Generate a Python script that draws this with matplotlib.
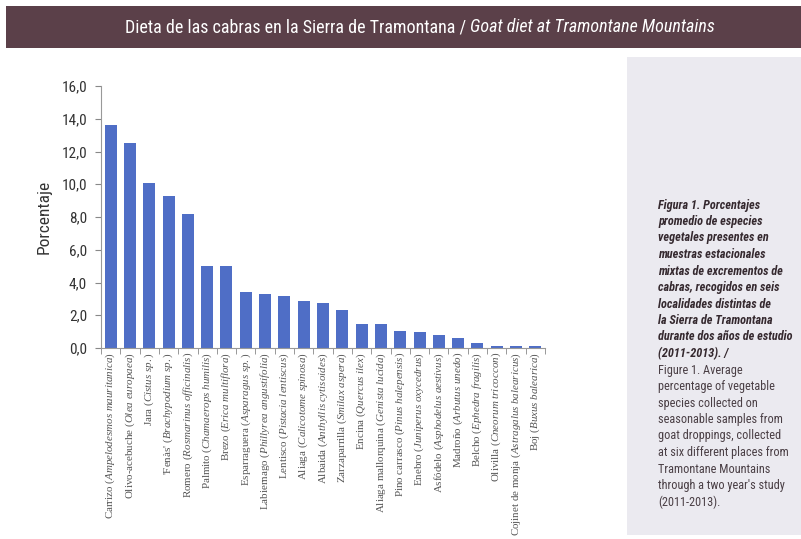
import matplotlib
matplotlib.use('Agg')
from matplotlib import pyplot as plt
from matplotlib.patches import Rectangle
import numpy

plt.rcParams['mathtext.fontset'] = 'custom'
plt.rcParams['mathtext.it'] = 'Liberation Serif:italic'
plt.rcParams['mathtext.rm'] = 'Liberation Serif'

# data
common_names = ['Carrizo', 'Olivo-acebuche', 'Jara', "'Fenàs'", 'Romero', 'Palmito', 'Brezo',
                'Esparraguera', 'Labiernago', 'Lentisco', 'Aliaga', 'Albaida', 'Zarzaparrilla',
                'Encina', 'Aliaga mallorquina', 'Pino carrasco', 'Enebro', 'Asfódelo', 'Madroño',
                'Belcho', 'Olivilla', 'Cojinet de monja', 'Boj']
latin_names = ['Ampelodesmos mauritanica', 'Olea europaea', 'Cistus sp.', 'Brachypodium sp.',
               'Rosmarinus officinalis', 'Chamaerops humilis', 'Erica multiflora', 'Asparagus sp.',
               'Phillyrea angustifolia', 'Pistacia lentiscus', 'Calicotome spinosa',
               'Anthyllis cytisoides', 'Smilax aspera', 'Quercus ilex', 'Genista lucida',
               'Pinus halepensis', 'Juniperus oxycedrus', 'Asphodelus aestivus', 'Arbutus unedo',
               'Ephedra fragilis', 'Cneorum tricoccon', 'Astragalus balearicus', 'Buxus balearica']
percentages = [13.6, 12.5, 10.1, 9.3, 8.2, 5.0, 5.0, 3.4, 3.3, 3.2, 2.85, 2.75, 2.3,
               1.45, 1.45, 1.05, 1.0, 0.8, 0.6, 0.3, 0.1, 0.1, 0.1]
y_ticks = [0, 2, 4, 6, 8, 10, 12, 14, 16]

title_es = 'Dieta de las cabras en la Sierra de Tramontana / '
title_en = 'Goat diet at Tramontane Mountains'
caption_es = ['Figura 1. Porcentajes', 'promedio de especies', 'vegetales presentes en',
              'muestras estacionales', 'mixtas de excrementos de', 'cabras, recogidos en seis',
              'localidades distintas de', 'la Sierra de Tramontana', 'durante dos años de estudio',
              '(2011-2013). /']
caption_en = ['Figure 1. Average', 'percentage of vegetable', 'species collected on',
              'seasonable samples from', 'goat droppings, collected', 'at six different places from',
              'Tramontane Mountains', "through a two year's study", '(2011-2013).']

narrow = ['Roboto Condensed', 'DejaVu Sans']

def italic_label(common, latin):
    return common + ' ($\\mathit{' + latin.replace(' ', '\\ ') + '}$)'

f = plt.figure(figsize=(8.01, 5.39), dpi=100)

# title band and side panel
f.patches.append(Rectangle((6/801, 1-48/539), 1, 42/539, transform=f.transFigure,
                           facecolor='#5b4049', edgecolor='none', zorder=0))
f.patches.append(Rectangle((627/801, 1-535/539), 1, 478/539, transform=f.transFigure,
                           facecolor='#ebeaf0', edgecolor='none', zorder=0))
f.text(470/801, 1-27/539, title_es, color='white', fontsize=13, family=narrow,
       ha='right', va='center')
f.text(470/801, 1-27/539, title_en, color='white', fontsize=13, family=narrow,
       style='italic', ha='left', va='center')

y0 = 1-205/539
step = 16.5/539
for i, line in enumerate(caption_es):
    f.text(658/801, y0-i*step, line, fontsize=8.8, family=narrow,
           style='italic', weight='bold', color='#35292f', va='center')
for i, line in enumerate(caption_en):
    f.text(658/801, y0-(i+len(caption_es))*step, line, fontsize=8.8,
           family=narrow, color='#4a3f45', va='center')

ax = f.add_axes([101/801, 1-348/539, 444/801, 262/539])
x = numpy.arange(len(percentages))
ax.bar(x, percentages, width=0.62, color='#4f6ec6')
ax.set_xlim(-0.5, len(percentages)-0.5)
ax.set_ylim(0, 16)
ax.set_yticks(y_ticks)
ax.set_yticklabels([('%.1f' % v).replace('.', ',') for v in y_ticks],
                   family=narrow, fontsize=11, color='#333333')
ax.set_xticks(x)
ax.set_xticklabels([italic_label(c, l) for c, l in zip(common_names, latin_names)],
                   rotation=90, fontsize=7.9, family='Liberation Serif', color='#555555')
ax.set_xticks(numpy.arange(len(percentages)+1)-0.5, minor=True)
ax.tick_params(axis='x', which='major', length=0, pad=3)
ax.tick_params(axis='x', which='minor', length=4, color='#888888')
ax.tick_params(axis='y', length=4, color='#888888', pad=6)
for side in ['top', 'right']:
    ax.spines[side].set_visible(False)
for side in ['left', 'bottom']:
    ax.spines[side].set_color('#999999')
ax.set_ylabel('Porcentaje', family=narrow, fontsize=12.5, color='#333333', labelpad=7)

plt.savefig('out.png', dpi=100)
